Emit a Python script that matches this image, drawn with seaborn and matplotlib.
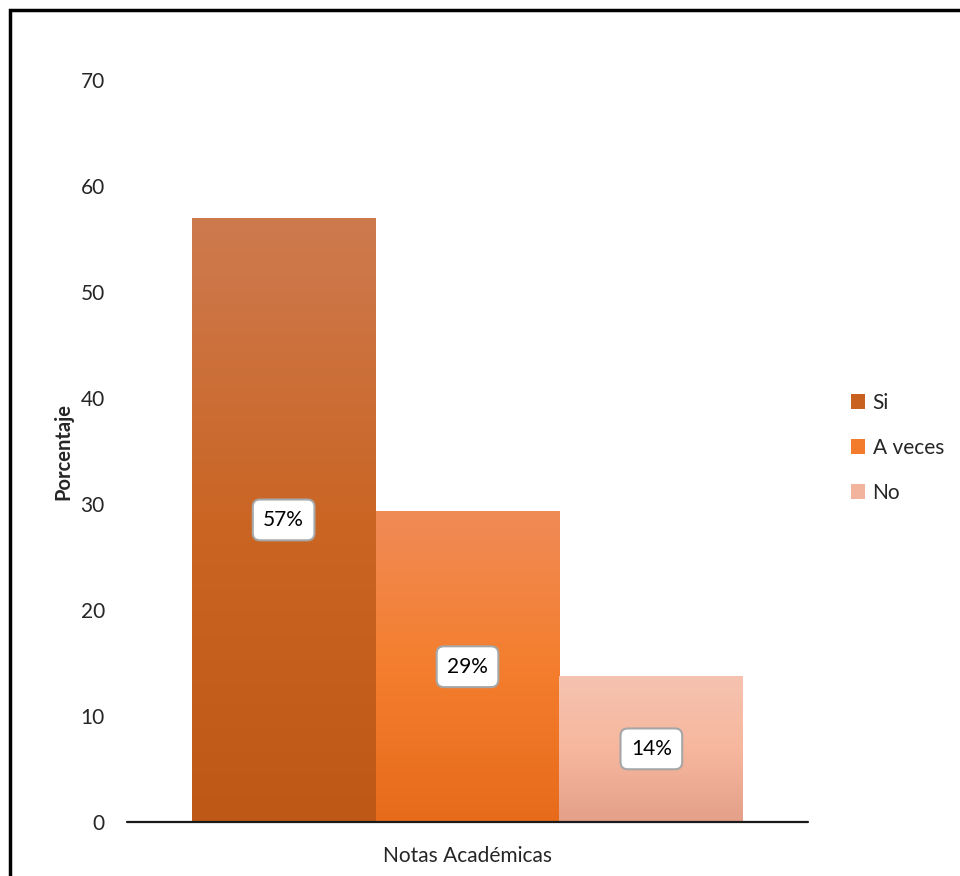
import numpy as np
import pandas as pd
import matplotlib
matplotlib.use("Agg")
import matplotlib.pyplot as plt
import seaborn as sns
from matplotlib.colors import LinearSegmentedColormap
from matplotlib.patches import Rectangle, Patch

# ---- data ----
group = ["Notas Académicas"]
categories = ["Si", "A veces", "No"]
values = [57.0, 29.3, 13.8]
labels = ["57%", "29%", "14%"]
y_ticks = [0, 10, 20, 30, 40, 50, 60, 70]

# gradient colours (top, middle, bottom)
grad_colors = {
    "Si": ["#CE7A4F", "#CA6524", "#BD5816"],
    "A veces": ["#F08B56", "#F47E2E", "#E76B1A"],
    "No": ["#F5C3B0", "#F7B79E", "#E4A089"],
}
solid_colors = {"Si": "#C8611F", "A veces": "#F27C2C", "No": "#F2B49C"}

df = pd.DataFrame({"grupo": group * len(categories), "cat": categories, "val": values})

sns.set_theme(style="white")
plt.rcParams["font.family"] = ["Lato", "DejaVu Sans"]

FS = 15

fig = plt.figure(figsize=(9.6, 8.76), dpi=100)
ax = fig.add_axes([127 / 960, 54 / 876, (808 - 127) / 960, (822 - 80) / 876])

sns.barplot(data=df, x="grupo", y="val", hue="cat", hue_order=categories,
            palette=solid_colors, width=0.81, ax=ax, legend=False, linewidth=0)

# gradient fill clipped to each bar
patches = [p for p in ax.patches if p.get_height() > 0]
patches.sort(key=lambda p: p.get_x())
for p, cat in zip(patches, categories):
    x0, w, h = p.get_x(), p.get_width(), p.get_height()
    top, mid, bot = grad_colors[cat]
    cmap = LinearSegmentedColormap.from_list(cat, [bot, mid, top])
    grad = np.linspace(0, 1, 256).reshape(-1, 1)
    im = ax.imshow(grad, cmap=cmap, extent=[x0, x0 + w, 0, h], origin="lower",
                   aspect="auto", zorder=p.get_zorder() + 0.1, interpolation="bilinear")
    im.set_clip_path(p)
    # data label
    ax.text(x0 + w / 2, h / 2, labels[categories.index(cat)], ha="center", va="center",
            fontsize=FS, color="black", zorder=10,
            bbox=dict(boxstyle="round,pad=0.5,rounding_size=0.35", fc="white",
                      ec="#A6A6A6", lw=1.5))

ax.set_xlim(-0.5, 0.5)
ax.set_ylim(0, 70)
ax.set_yticks(y_ticks)
ax.set_yticklabels([str(t) for t in y_ticks], fontsize=FS)
ax.tick_params(axis="y", length=0, pad=16)
ax.set_xticks([])
ax.set_xlabel("Notas Académicas", fontsize=FS, labelpad=17)
ax.set_ylabel("Porcentaje", fontsize=FS - 0.5, fontweight="bold", labelpad=5)
for s in ["top", "right", "left", "bottom"]:
    ax.spines[s].set_visible(False)
ax.axhline(0, color="#1a1a1a", lw=1.6, zorder=5, clip_on=False)
ax.grid(False)

# legend
handles = [Patch(facecolor=solid_colors[c], edgecolor="none", label=c) for c in categories]
fig.legend(handles=handles, loc="upper left", bbox_to_anchor=(832 / 960, 1 - 374 / 876),
           frameon=False, fontsize=FS, handlelength=0.7, handleheight=0.7,
           handletextpad=0.35, labelspacing=1.2)

# outer frame (left and top edges visible)
fig.add_artist(Rectangle((9.5 / 960, -0.2), 1.5, 1.2 - 9.5 / 876,
                         transform=fig.transFigure, fill=False, ec="black", lw=2.5))

fig.savefig("out.png", dpi=100)
